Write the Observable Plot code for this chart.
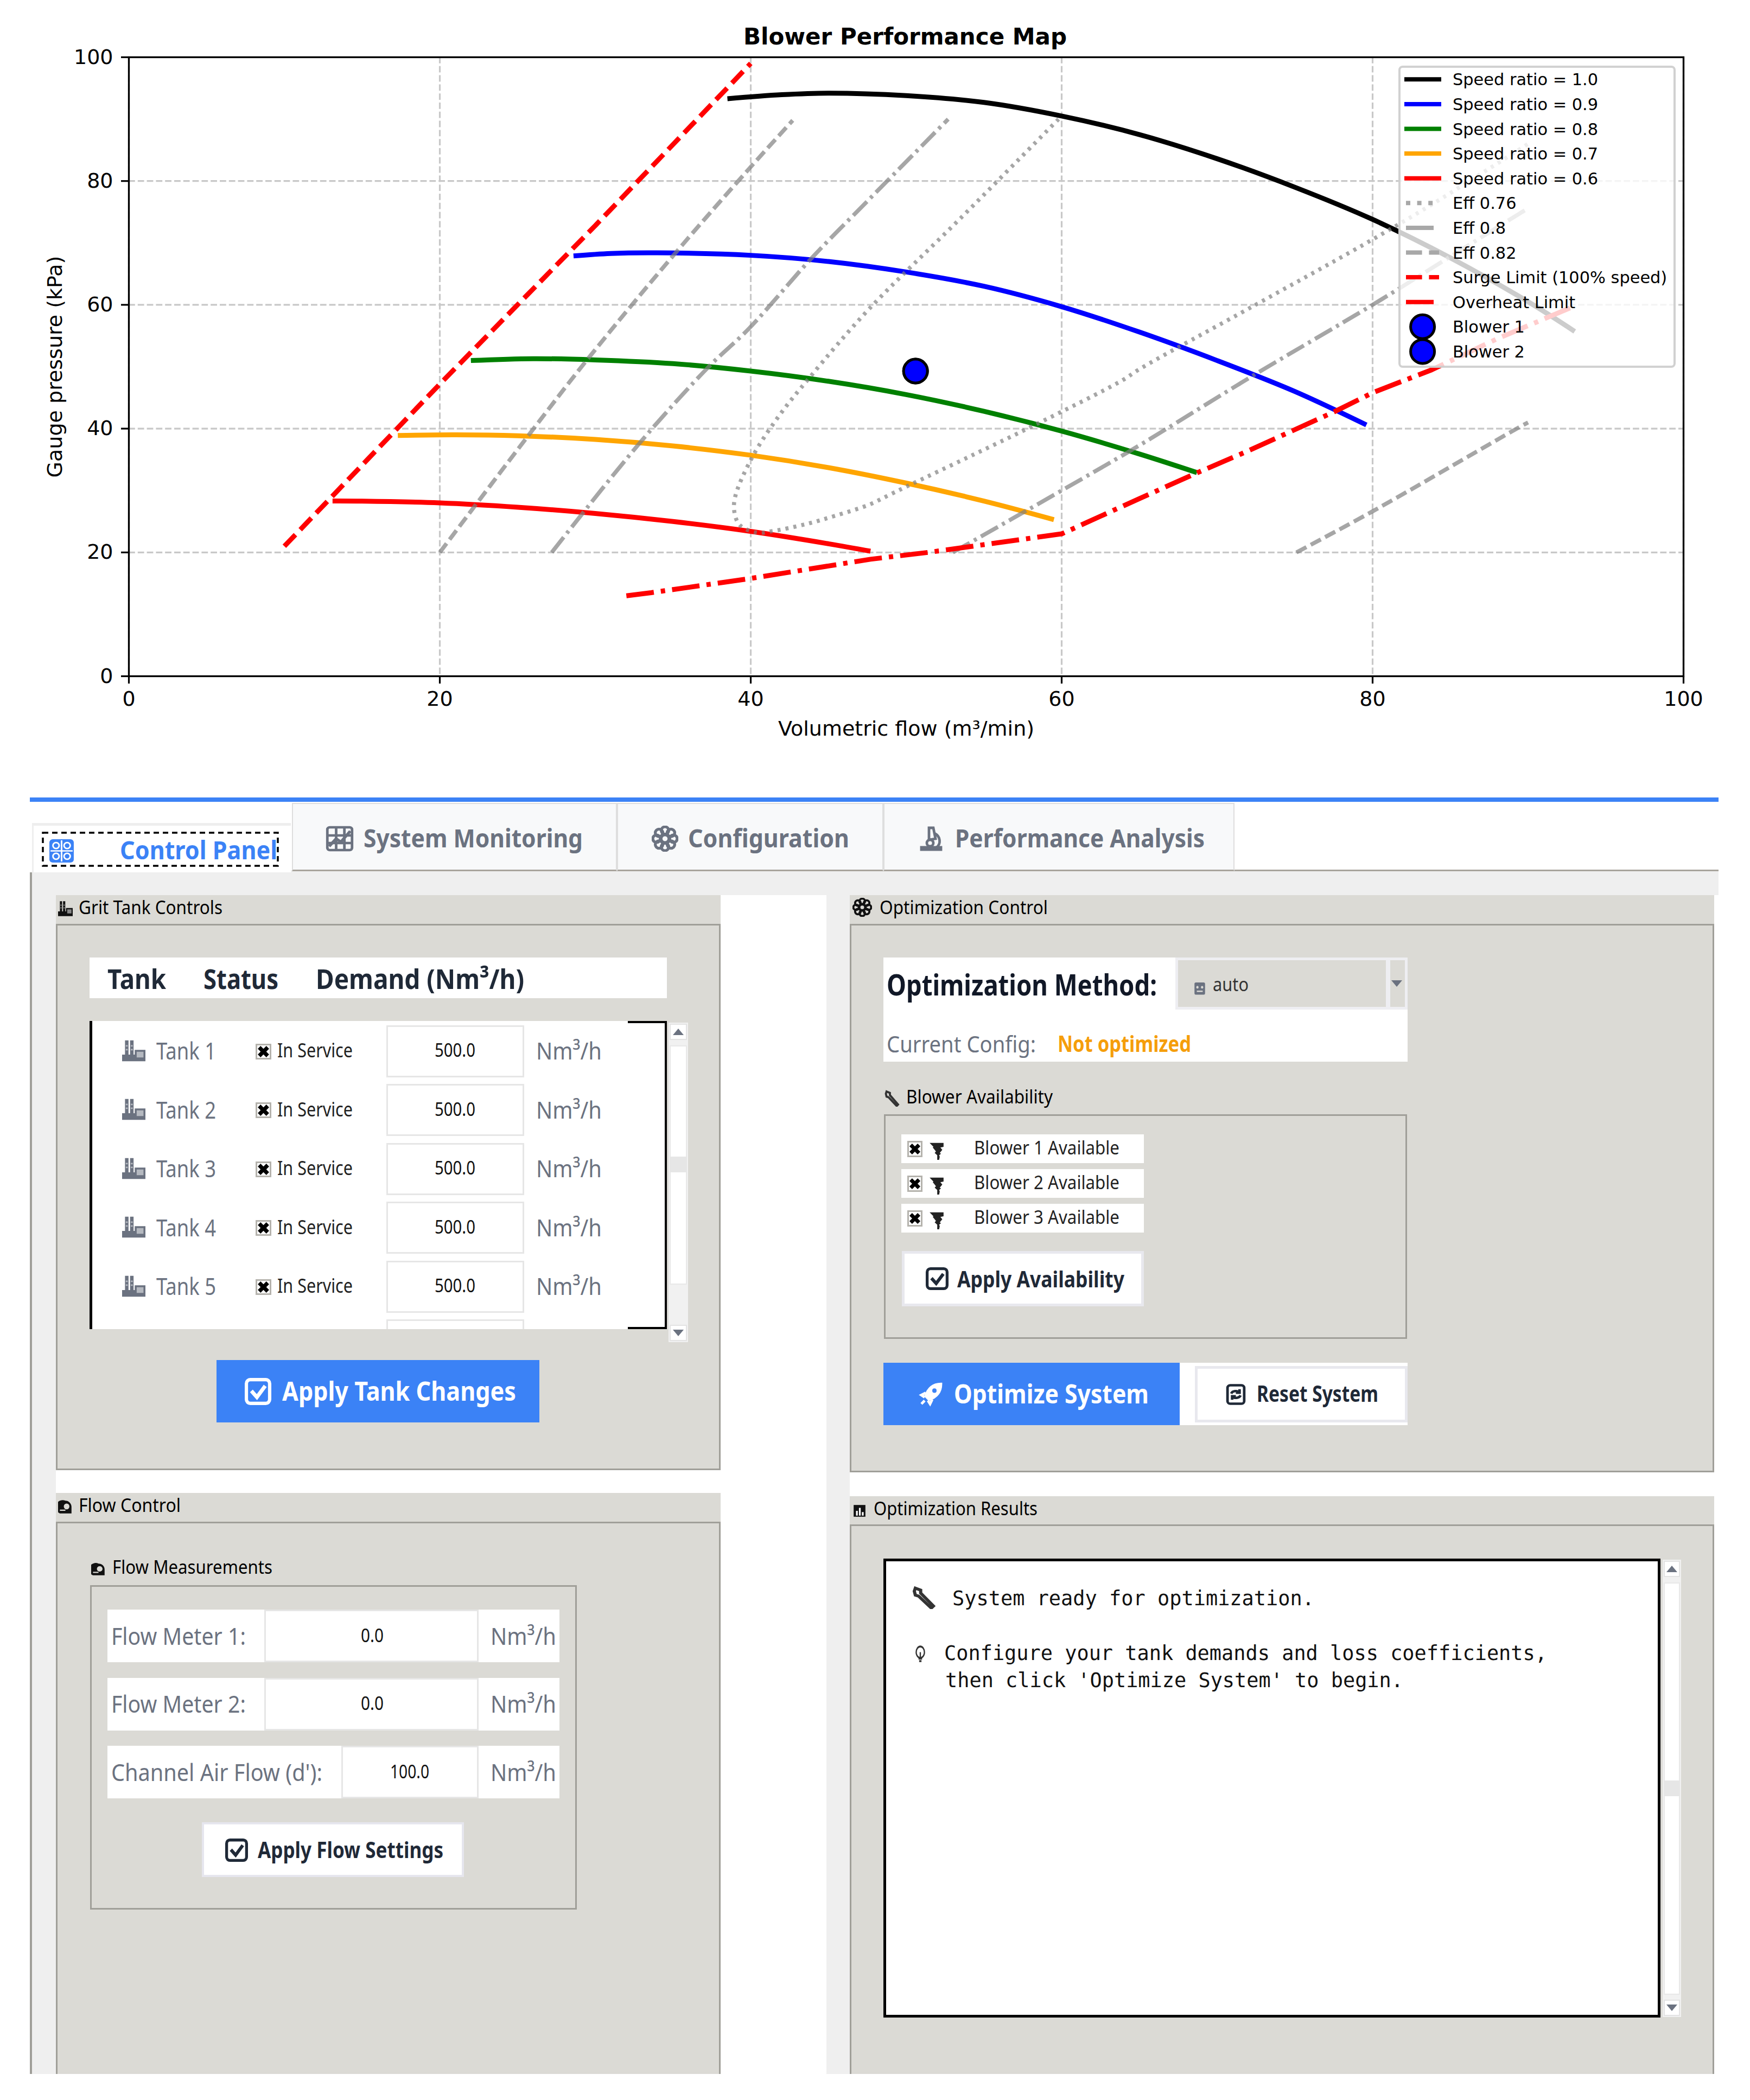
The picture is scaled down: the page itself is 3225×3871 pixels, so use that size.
<!DOCTYPE html>
<html><head><meta charset="utf-8">
<script src="https://cdn.jsdelivr.net/npm/d3@7"></script>
<script src="https://cdn.jsdelivr.net/npm/@observablehq/plot@0.6"></script>
<style>
html,body{margin:0;padding:0;background:#fff}
#page{position:relative;width:3225px;height:3871px;overflow:hidden;background:#fff}
#page .a{position:absolute;box-sizing:border-box}
#page .t{position:absolute;white-space:nowrap;transform-origin:left center;line-height:1}
svg text{font-family:"DejaVu Sans"}
</style></head><body><div id="page"></div>
<script>
/* ---------- chart data: [flow m3/min, gauge pressure kPa] ---------- */
const speed10=[[38.5,93.3],[42,93.95],[45,94.2],[50,93.8],[55,92.7],[60,90.5],[65,87.5],[70,83.6],[75,79],[80,73.8],[85,67.6],[90,60.5],[93,55.7]];
const speed09=[[28.6,67.9],[31,68.3],[34,68.4],[40,68],[45,67],[50,65.3],[55,63],[60,59.7],[65,55.6],[70,51],[75,46],[79.6,40.6]];
const speed08=[[22,51],[26,51.3],[30,51.1],[35,50.5],[40,49.3],[45,47.65],[50,45.5],[55,42.8],[60,39.6],[65,35.9],[68.7,32.9]];
const speed07=[[17.3,38.9],[21,39],[25,38.85],[30,38.25],[35,37.2],[40,35.7],[45,33.7],[50,31.2],[55,28.3],[59.5,25.3]];
const speed06=[[13.1,28.3],[15,28.28],[20,28],[25,27.3],[30,26.3],[35,25],[40,23.4],[45,21.4],[47.7,20.2]];
const effDotted=[[59.8,90],[53.5,74],[47.6,59.3],[43.8,48.3],[41.8,42],[40.1,35.4],[39,29],[38.95,26.5],[39.3,24.4],[40.4,23.2],[41.3,23.4],[43.6,24.6],[45.4,25.9],[47.6,27.7],[49,29.4],[50.4,31.1],[54,35.4],[58.2,40.5],[63.9,47.8],[65,49.6],[72.4,59.9],[79.4,69.7],[83.8,76.2],[90,86]];
const effDashDotA=[[27.2,20],[32.9,37.8],[37.3,50],[39.9,56.2],[43.9,67.5],[47.6,77],[52.7,90]];
const effDashDotB=[[53,20],[60,30],[64.4,36.4],[66.7,39.9],[72.4,48.7],[80,60],[85,67.8],[90,75.6]];
const effDashedA=[[20,20],[25.7,38.9],[29.5,51.2],[35.2,68.5],[39.9,82],[42.7,89.8]];
const effDashedB=[[75.1,20],[79.9,26.5],[89.2,39.9],[90,41]];
const surgeLimit=[[10,21],[20,47.2],[30,72.8],[40,99]];
const overheatLimit=[[32,13],[33.6,13.5],[40,15.8],[47.7,18.9],[51.4,20],[60,23],[65,28.7],[68.75,32.9],[71.9,36.3],[77.6,42.8],[80,45.8],[83.8,49.5],[88,54.5],[92.7,59.5]];
const blowerPoints=[[50.6,49.3],[50.6,49.3]];
const axisTicks=[0,20,40,60,80,100];
const legendLabels=["Speed ratio = 1.0","Speed ratio = 0.9","Speed ratio = 0.8","Speed ratio = 0.7","Speed ratio = 0.6","Eff 0.76","Eff 0.8","Eff 0.82","Surge Limit (100% speed)","Overheat Limit","Blower 1","Blower 2"];
/* ---------- interface content ---------- */
const tabLabels=["System Monitoring","Configuration","Performance Analysis"];
const tankNames=["Tank 1","Tank 2","Tank 3","Tank 4","Tank 5"];
const tankStatus="In Service";
const tankDemands=["500.0","500.0","500.0","500.0","500.0"];
const unitLabel="Nm³/h";
const blowerNames=["Blower 1 Available","Blower 2 Available","Blower 3 Available"];
const flowLabels=["Flow Meter 1:","Flow Meter 2:","Channel Air Flow (d'):"];
const flowValues=["0.0","0.0","100.0"];
const resultLines=["System ready for optimization.","Configure your tank demands and loss coefficients,","then click 'Optimize System' to begin."];

const page=document.getElementById("page");
const P=(d,o)=>Plot.line(d,{x:p=>p[0],y:p=>p[1],strokeLinecap:"butt",strokeLinejoin:"miter",...o});
const speedStyle=(c)=>({stroke:c,strokeWidth:9,curve:"catmull-rom"});
const effStyle=(dash)=>({stroke:"#808080",strokeOpacity:.7,strokeWidth:7.5,curve:"catmull-rom",strokeDasharray:dash});

const chart=Plot.plot({
  width:3225,height:1326,marginLeft:237,marginRight:123,marginTop:11,marginBottom:174,
  style:{background:"transparent",fontFamily:"DejaVu Sans",overflow:"visible"},
  x:{domain:[0,100]},y:{domain:[0,100]},
  marks:[
    Plot.gridX(axisTicks,{stroke:"#c8c8c8",strokeOpacity:1,strokeWidth:3.2,strokeDasharray:"11.8,5"}),
    Plot.gridY(axisTicks,{stroke:"#c8c8c8",strokeOpacity:1,strokeWidth:3.2,strokeDasharray:"11.8,5"}),
    P(speed10,speedStyle("#000000")),
    P(speed09,speedStyle("#0000ff")),
    P(speed08,speedStyle("#008000")),
    P(speed07,speedStyle("#ffa500")),
    P(speed06,speedStyle("#ff0000")),
    P(effDotted,effStyle("5.6,9.2")),
    P(effDashDotA,effStyle("36,9,5.6,9")),
    P(effDashDotB,effStyle("36,9,5.6,9")),
    P(effDashedA,effStyle("21,9")),
    P(effDashedB,effStyle("21,9")),
    P(surgeLimit,{stroke:"#ff0000",strokeWidth:9,strokeDasharray:"29.6,12.8"}),
    P(overheatLimit,{stroke:"#ff0000",strokeWidth:9,strokeDasharray:"51,13,8,13"}),
    Plot.dot(blowerPoints,{x:p=>p[0],y:p=>p[1],r:22,fill:"#0000ff",stroke:"#000000",strokeWidth:5}),
    Plot.frame({stroke:"#000000",strokeWidth:3.3}),
    Plot.axisX(axisTicks,{tickSize:14,tickPadding:14,fontSize:38,strokeWidth:3.2,label:"Volumetric flow (m³/min)",labelAnchor:"center",labelArrow:"none",labelOffset:109,tickFormat:d=>String(d)}),
    Plot.axisY(axisTicks,{tickSize:14,tickPadding:15,fontSize:38,strokeWidth:3.2,label:"Gauge pressure (kPa)",labelAnchor:"center",labelArrow:"none",labelOffset:150,tickFormat:d=>String(d)})
  ]
});
chart.style.position="absolute";chart.style.left="0";chart.style.top="94px";
page.appendChild(chart);

/* ---------- helpers for the HTML parts ---------- */
function box(x0,y0,x1,y1,css=""){const e=document.createElement("div");e.className="a";
  e.style.cssText=`left:${x0}px;top:${y0}px;width:${x1-x0}px;height:${y1-y0}px;${css}`;page.appendChild(e);return e;}
function txt(s,x,cy,w,size,color,weight=400,family='"Noto Sans"'){const e=document.createElement("span");e.className="t";e.textContent=s;
  const ui=family.includes("Noto");const fs=ui?size*1.06:size;const top=ui?cy-2.5:cy;
  e.style.cssText=`left:${x}px;top:${top}px;font:${weight} ${fs}px ${family};color:${color};`;page.appendChild(e);
  const k=w?w/e.getBoundingClientRect().width:1;e.style.transform=`translateY(-50%) scaleX(${k})`;return e;}
function gearSvg(c){let g="";for(let i=0;i<8;i++){const a=i*Math.PI/4;g+=`<circle cx="${12+7.6*Math.cos(a)}" cy="${12+7.6*Math.sin(a)}" r="3.4"/>`;}
  return `<g fill="none" stroke="${c}" stroke-width="2.6">${g}<circle cx="12" cy="12" r="3.6"/></g>`;}
const icons={
 factory:c=>`<path fill="${c}" d="M0 23v-7h3V1h3.6v15h1.6V1h3.6v15h1.2v-5h11v12z"/><path fill="#fff" opacity=".5" d="M15 13h7v6h-7zM3.8 6h2v1.5h-2zM9 6h2v1.5H9zM3.8 10h2v1.5h-2zM9 10h2v1.5H9z"/>`,
 panel:c=>{let s=`<rect x="1" y="1" width="22" height="22" rx="3" fill="${c}"/><path d="M12 2v20M2 12h20" stroke="#fff" stroke-width="1.4"/>`;for(const[x,y]of[[7,7],[17,7],[7,17],[17,17]])s+=`<circle cx="${x}" cy="${y}" r="2.8" fill="none" stroke="#fff" stroke-width="1.4"/>`;return s;},
 chart:c=>`<g fill="none" stroke="${c}" stroke-width="2.2"><rect x="1.5" y="1.5" width="21" height="21" rx="2"/><path d="M1.5 9h21M1.5 16h21M9 1.5v21M16 1.5v21"/><path stroke-width="2.6" d="M3 19l6-7 4 3 8-10"/></g>`,
 gear:gearSvg,
 micro:c=>`<g fill="none" stroke="${c}" stroke-width="2.4"><path d="M10 2l4 0 2 10-6 1z"/><path d="M15 7c6 3 6 10 2 13"/><path d="M3 22h18v-2H3z" fill="${c}"/><circle cx="11" cy="16" r="3"/></g>`,
 check:c=>`<g fill="none" stroke="${c}" stroke-width="3"><rect x="1.5" y="1.5" width="21" height="21" rx="3.5"/><path d="M6 11.5l5 5.5 7.5-10" stroke-width="3.4"/></g>`,
 gauge:c=>`<path fill="${c}" d="M12 2a10 10 0 0 1 10 10v10H3a10 10 0 0 1 9-20z"/><circle cx="14" cy="11" r="4.6" fill="#dbdad5"/><path fill="#dbdad5" d="M3 16h9v2H3z"/>`,
 wrench:c=>`<g fill="none" stroke="${c}" stroke-width="3"><path d="M3 3l5 2 0 3 12 13-2 2L6 11 3 10 2 6z"/></g>`,
 fan:c=>`<path fill="${c}" d="M1 2l22 0 0 5-5 1 3 3-4 4 2 1-3 2 1 2-1 4h-3l0-6-4-3 2-2-5-5 1-1z"/>`,
 rocket:c=>`<g fill="none" stroke="${c}" stroke-width="2.4"><path d="M21 3c-7 0-12 4-14 11l3 3c7-2 11-7 11-14z" fill="${c}"/><path d="M7 11l-4 2 3 2M13 17l-2 4-2-3M6 18l-3 3"/></g><circle cx="15" cy="9" r="2" fill="#3b82f6"/>`,
 refresh:c=>`<g fill="none" stroke="${c}" stroke-width="2.8"><rect x="3" y="1.5" width="18" height="21" rx="3"/><path d="M7 11a5 4 0 0 1 9-1M17 13a5 4 0 0 1-9 1M16 6v4h-4M8 18v-4h4"/></g>`,
 bars:c=>`<rect x="2" y="2" width="20" height="20" fill="${c}"/><path fill="#fff" d="M6 12h3v8H6zM11 7h3v13h-3zM16 14h3v6h-3z"/>`,
 bulb:c=>`<g fill="none" stroke="${c}" stroke-width="2.2"><circle cx="12" cy="9" r="7"/><path d="M9 17h6M10 20h4M12 9v8"/></g>`,
 robot:c=>`<rect x="3" y="4" width="18" height="18" rx="2" fill="${c}"/><circle cx="8" cy="11" r="2" fill="#dbdad5"/><circle cx="16" cy="11" r="2" fill="#dbdad5"/><path d="M5 3h14M7 17h10" stroke="#dbdad5" stroke-width="2"/>`
};
function icon(n,x0,y0,x1,y1,c){const s=document.createElementNS("http://www.w3.org/2000/svg","svg");
  s.setAttribute("viewBox","0 0 24 24");s.setAttribute("preserveAspectRatio","none");
  s.style.cssText=`position:absolute;left:${x0}px;top:${y0}px;width:${x1-x0}px;height:${y1-y0}px`;s.innerHTML=icons[n](c);page.appendChild(s);}
function checkbox(x0,y0,x1,y1){box(x0,y0,x1,y1,"background:#fff;border:3px solid #b5b3ad");
  const s=document.createElementNS("http://www.w3.org/2000/svg","svg");s.setAttribute("viewBox","0 0 24 24");
  s.style.cssText=`position:absolute;left:${x0}px;top:${y0}px;width:${x1-x0}px;height:${y1-y0}px`;
  s.innerHTML=`<path d="M5.5 5.5l13 13M18.5 5.5l-13 13" stroke="#000" stroke-width="6"/>`;page.appendChild(s);}
function tri(cx,cy,up,c="#6b7280"){const s=document.createElementNS("http://www.w3.org/2000/svg","svg");s.setAttribute("viewBox","0 0 20 12");
  s.style.cssText=`position:absolute;left:${cx-10}px;top:${cy-6}px;width:20px;height:12px`;
  s.innerHTML=`<path d="${up?"M0 12L10 0L20 12z":"M0 0L10 12L20 0z"}" fill="${c}"/>`;page.appendChild(s);}
function scrollbar(x0,y0,x1,y1,bodyEnd,th0,th1){box(x0,y0,x1,y1,"background:#f1f1f1");
  box(x0+2,y0+2,x1-2,y0+32,"background:#fff;border:2px solid #e3e3e3");tri((x0+x1)/2,y0+17,true);
  box(x0+2,y0+42,x1-2,bodyEnd,"background:#fff;border:2px solid #e8e8e8");
  box(x0+2,th0,x1-2,th1,"background:#e6e6e6");
  box(x0+2,y1-32,x1-2,y1-2,"background:#fff;border:2px solid #e3e3e3");tri((x0+x1)/2,y1-17,false);}
const blue="#3b82f6",panel="#dbdad5",edge="#a09f99",gray="#6b7280",dark="#1f2937";

/* ---------- title and legend ---------- */
const title=txt("Blower Performance Map",1370,67,0,42,"#000",700,'"DejaVu Sans"');

const lg=box(2577,120.6,3088,678,"background:rgba(255,255,255,.8);border:4px solid rgba(204,204,204,.9);border-radius:8px");
legendLabels.forEach((s,i)=>txt(s,2677,146.3+45.6*i,0,30.4,"#000",400,'"DejaVu Sans"'));
const swatchStyles=[["#000000",null],["#0000ff",null],["#008000",null],["#ffa500",null],["#ff0000",null],["#a8a8a8","8,12.6"],["#a8a8a8","51,13,8,13"],["#a8a8a8","29.6,12.8"],["#ff0000","29.6,12.8"],["#ff0000","51,13,8,13"]];
const ls=document.createElementNS("http://www.w3.org/2000/svg","svg");
ls.style.cssText="position:absolute;left:2500px;top:100px;width:300px;height:600px;overflow:visible";
let inner="";
swatchStyles.forEach(([c,d],i)=>{const cy=46.3+45.6*i;
  inner+=d?`<line x1="91" x2="152" y1="${cy}" y2="${cy}" stroke="${c}" stroke-width="8" stroke-dasharray="${d}"/>`
          :`<line x1="88" x2="156" y1="${cy}" y2="${cy}" stroke="${c}" stroke-width="8"/>`;});
[10,11].forEach(i=>{inner+=`<circle cx="121.6" cy="${46.3+45.6*i}" r="22" fill="#0000ff" stroke="#000" stroke-width="5"/>`;});
ls.innerHTML=inner;page.appendChild(ls);

/* ---------- notebook frame and tabs ---------- */
box(55,1470,3167,1478,`background:${blue}`);
box(59,1604,3167,3823,"background:#efefef");
box(55,1608,59,3823,`background:${edge}`);
box(2275,1603,3167,1606,"background:#a8a49c");
box(59,1517,536,1608,"background:#fff;border-top:5px solid #eeeeee;border-left:3px solid #eee");
const focus=document.createElementNS("http://www.w3.org/2000/svg","svg");
focus.style.cssText="position:absolute;left:0;top:1500px;width:600px;height:120px";
focus.innerHTML=`<rect x="79" y="35" width="433" height="61" fill="none" stroke="#000" stroke-width="3.5" stroke-dasharray="10,7"/>`;page.appendChild(focus);
icon("panel",89,1545,138,1592,blue);
txt("Control Panel",221,1568,290,44,blue,700);
const tabEdges=[[538,1137],[1137,1628],[1628,2275]];
const tabIcons=["chart","gear","micro"];
const tabIconX=[[600,652],[1201,1250],[1692,1740]];
const tabTextX=[[670,404],[1268,297],[1760,460]];
tabLabels.forEach((s,i)=>{box(tabEdges[i][0],1480,tabEdges[i][1],1606,"background:#f8f9fa;border:2px solid #dedede;border-bottom:3px solid #a8a49c");
  icon(tabIcons[i],tabIconX[i][0],1522,tabIconX[i][1],1570,gray);
  txt(s,tabTextX[i][0],1546,tabTextX[i][1],44,gray,700);});

/* white gaps between the columns and rows */
box(1328,1650,1523,3823,"background:#fff");
box(103,2709,1328,2752,"background:#fff");
box(1566,2714,3167,2758,"background:#fff");
box(3159,1650,3167,3823,"background:#fff");

function group(x0,x1,top,mid,bottom){box(x0,top,x1,mid,`background:${panel}`);
  box(x0,mid-2,x1,bottom,`background:${panel};border:3px solid ${edge};${bottom>=3823?"border-bottom:none":""}`);}

/* ---------- Grit Tank Controls ---------- */
group(103,1328,1650,1705,2710);
icon("factory",107,1660,134,1690,"#111");
txt("Grit Tank Controls",145,1673,265,33,"#000");
box(165,1765,1229,1840,"background:#fff");
txt("Tank",198,1805,108,48,dark,700);
txt("Status",375,1805,138,48,dark,700);
txt("Demand (Nm³/h)",582,1805,384,48,dark,700);
box(165,1882,1229,2450,"background:#fff;border-left:5px solid #000");
box(1157,1882,1229,1886,"background:#000");
box(1157,2446,1229,2450,"background:#000");
box(1225,1882,1229,2450,"background:#000");
tankNames.forEach((s,i)=>{const cy=1937.5+108.6*i;
  icon("factory",225,cy-22,268,cy+20,gray);
  txt(s,288,cy,110,42,gray);
  checkbox(471,cy-14,500,cy+15);
  txt(tankStatus,511,cy,139,34,"#222");
  box(712,cy-48,966,cy+48,"background:#fff;border:3px solid #e6e6e6");
  txt(tankDemands[i],801,cy,75,32,"#111");
  txt(unitLabel,988,cy,121,42,gray);});
box(712,2432,966,2450,"background:#fff;border:3px solid #e6e6e6;border-bottom:none");
scrollbar(1232,1885,1268,2474,2368,2132,2161);
box(399,2507,994,2622,`background:${blue}`);
icon("check",451,2540,500,2590,"#fff");
txt("Apply Tank Changes",520,2565,431,46,"#fff",700);

/* ---------- Flow Control ---------- */
group(103,1328,2752,2807,3823);
icon("gauge",107,2764,134,2792,"#111");
txt("Flow Control",145,2775,188,33,"#000");
icon("gauge",168,2880,195,2906,"#111");
txt("Flow Measurements",207,2889,295,33,"#000");
box(166,2922,1063,3520,`border:3px solid ${edge}`);
const flowInputX=[487,487,629];
const flowLabelW=[248,248,389];
const flowValueX=[665,665,719];
const flowValueW=[42,42,72];
flowLabels.forEach((s,i)=>{const y0=2967+125.5*i;const cy=y0+49;
  box(198,y0,1031,y0+97,"background:#fff");
  box(flowInputX[i],y0,882,y0+97,"background:#fff;border:3px solid #e6e6e6");
  txt(s,205,cy,flowLabelW[i],42,gray);
  txt(flowValues[i],flowValueX[i],cy,flowValueW[i],32,"#111");
  txt(unitLabel,904,cy,121,42,gray);});
box(372,3359,855,3460,"background:#fff;border:4px solid #e6e6ee");
icon("check",415,3389,457,3432,dark);
txt("Apply Flow Settings",475,3411,342,38,dark,700);

/* ---------- Optimization Control ---------- */
group(1566,3159,1650,1705,2714);
icon("gear",1571,1655,1607,1690,"#111");
txt("Optimization Control",1621,1673,310,33,"#000");
box(1628,1765,2594,1957,"background:#fff");
txt("Optimization Method:",1634,1816,498,50,"#111827",700);
box(2166,1765,2594,1861,`background:${panel};border:5px solid #eeeef2`);
box(2554,1765,2562,1861,"background:#eeeef2");
tri(2574,1813,false,"#6b7280");
icon("robot",2198,1806,2224,1836,gray);
txt("auto",2235,1816,66,32,"#333");
txt("Current Config:",1634,1925,275,40,gray);
txt("Not optimized",1949,1925,246,38,"#f59e0b",700);
icon("wrench",1630,2008,1660,2040,"#333");
txt("Blower Availability",1670,2022,270,33,"#000");
box(1629,2054,2593,2468,`border:3px solid ${edge}`);
blowerNames.forEach((s,i)=>{const y0=2091+64*i;const cy=y0+26.5;
  box(1661,y0,2108,y0+53,"background:#fff");
  checkbox(1672,cy-15,1700,cy+15);
  icon("fan",1712,cy-14,1740,cy+20,"#222");
  txt(s,1795,cy,268,32,"#222");});
box(1662,2306,2108,2408,"background:#fff;border:5px solid #e8e8ee");
icon("check",1706,2336,1748,2378,dark);
txt("Apply Availability",1764,2359,308,38,dark,700);
box(1628,2512,2594,2627,"background:#fff");
box(1628,2512,2174,2627,`background:${blue}`);
icon("rocket",1692,2545,1740,2594,"#fff");
txt("Optimize System",1758,2570,359,46,"#fff",700);
box(2202,2518,2594,2622,"background:#fff;border:5px solid #e8e8ee");
icon("refresh",2257,2551,2298,2590,dark);
txt("Reset System",2316,2570,224,38,dark,700);

/* ---------- Optimization Results ---------- */
group(1566,3159,2758,2812,3823);
icon("bars",1571,2772,1597,2798,"#111");
txt("Optimization Results",1610,2781,302,33,"#000");
box(1628,2873,3060,3719,"background:#fff;border:5px solid #000");
scrollbar(3064,2875,3098,3718,3677,3282,3311);
icon("wrench",1681,2922,1728,2966,"#333");
icon("bulb",1683,3032,1709,3068,"#333");
const mono='"DejaVu Sans Mono"';
txt(resultLines[0],1755,2946,667,37,"#111",400,mono);
txt(resultLines[1],1740,3047,1111,37,"#111",400,mono);
txt(resultLines[2],1742,3097,844,37,"#111",400,mono);

/* centre the title over the axes */
title.style.left=(1668-title.getBoundingClientRect().width/2)+"px";
</script></body></html>
